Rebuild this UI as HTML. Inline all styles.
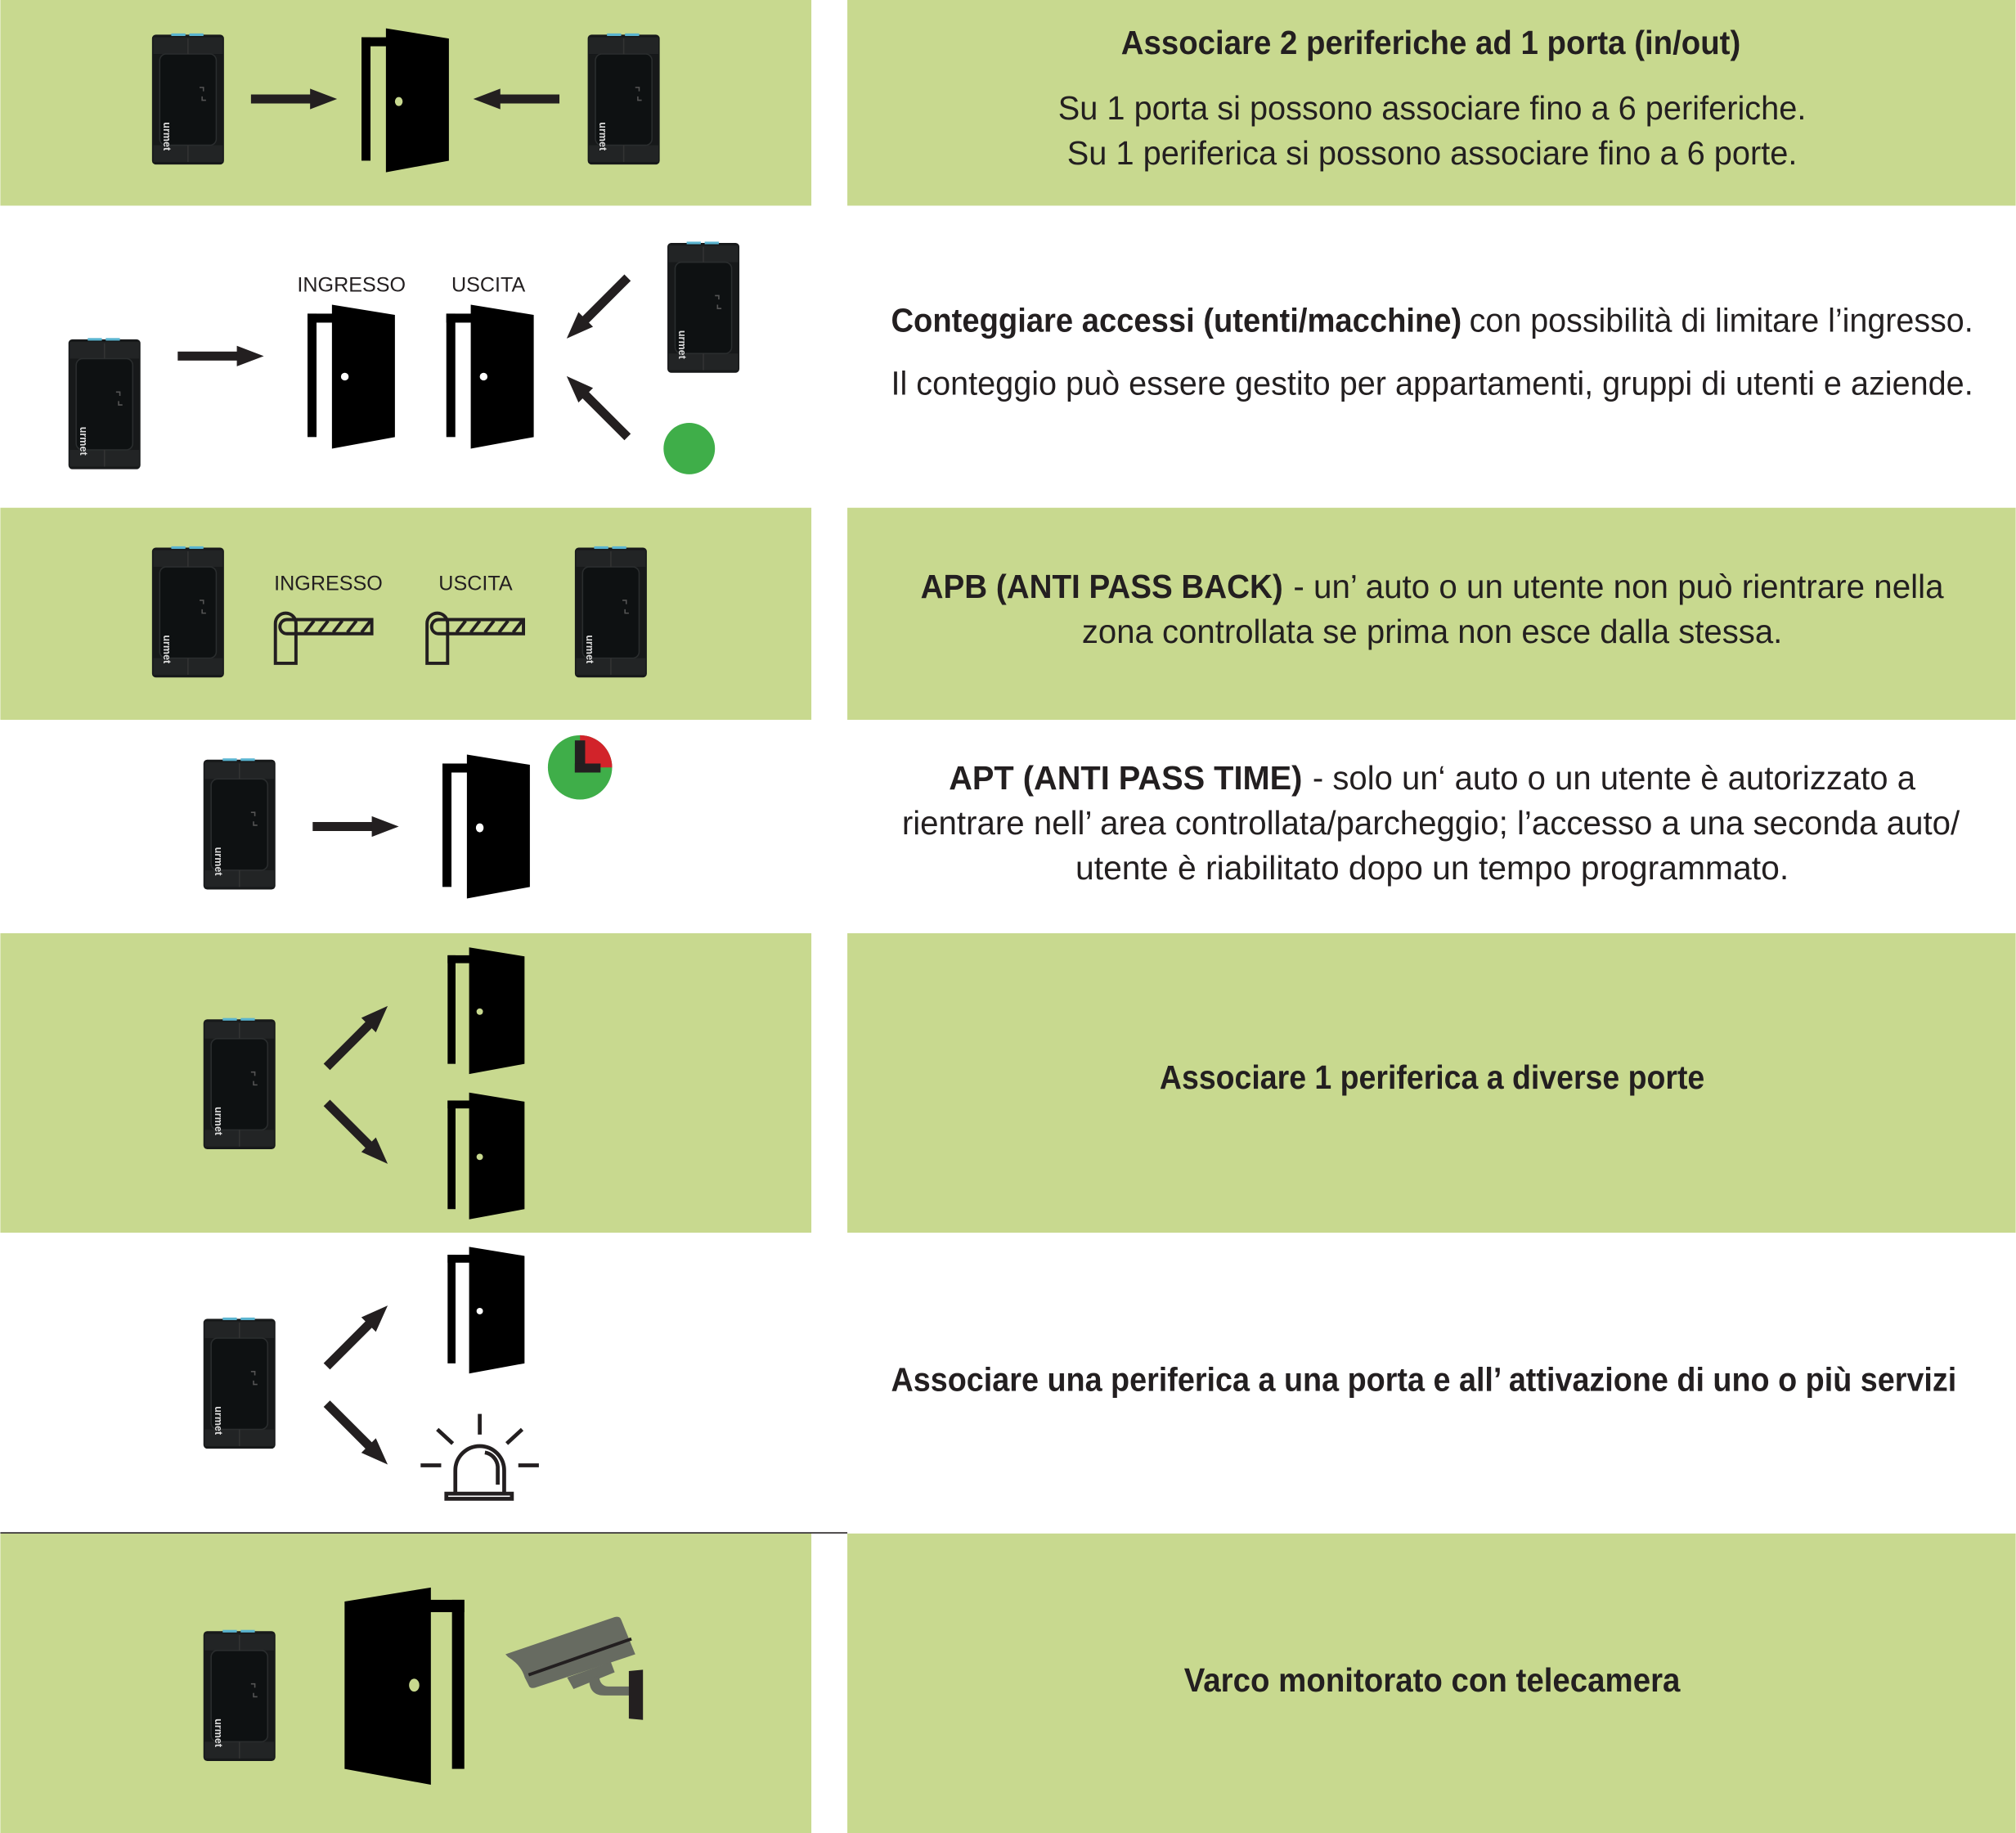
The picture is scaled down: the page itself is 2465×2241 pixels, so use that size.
<!DOCTYPE html>
<html><head><meta charset="utf-8"><style>
html,body{margin:0;padding:0;background:#fff;}
svg{display:block;}
text{font-family:"Liberation Sans",sans-serif;fill:#231f20;}
.t{font-size:26px;}
.b{font-weight:bold;}
.l{font-size:16px;}
</style></head><body>
<svg width="2465" height="2241" viewBox="0 0 1568 1426" xmlns="http://www.w3.org/2000/svg">
<defs>
<g id="rd">
<rect x="0" y="2" width="56" height="101" rx="3" fill="#17191a"/>
<rect x="1" y="4" width="54" height="13" fill="#222425"/>
<rect x="1" y="88" width="54" height="13" fill="#222425"/>
<rect x="15" y="1" width="11" height="2" fill="#5ab4d0"/>
<rect x="29" y="1" width="11" height="2" fill="#5ab4d0"/>
<rect x="6" y="17" width="44" height="71" rx="5" fill="#0e1112" stroke="#2a2d2e" stroke-width="1"/>
<path d="M28 17V5M28 88v13" stroke="#333" stroke-width="1"/>
<path d="M20 40h3v3M22 47v3h3" transform="translate(17 3)" fill="none" stroke="#555" stroke-width="1"/>
<text transform="translate(9 70) rotate(90)" style="font-size:8px;font-weight:bold;fill:#ddd">urmet</text>
</g>
<g id="dr">
<rect x="0" y="7" width="7" height="96" fill="#000"/>
<rect x="0" y="7" width="20" height="7" fill="#000"/>
<polygon points="19,0 68,8 68,103 19,112" fill="#000"/>
</g>
<g id="ar"><rect x="0" y="-3.5" width="48" height="7" fill="#231f20"/><polygon points="46,-8 67,0 46,8" fill="#231f20"/></g>
<g id="bar">
<path d="M3 41V10a8 8 0 0 1 16 0V41Z" fill="none" stroke="#231f20" stroke-width="2.5"/>
<path d="M12 7h66v11H12a5.5 5.5 0 0 1 0-11Z" fill="none" stroke="#231f20" stroke-width="2.5"/>
<path d="M26 17l7-9M37 17l7-9M48 17l7-9M59 17l7-9M70 17l7-9" stroke="#231f20" stroke-width="2.5"/>
</g>
</defs>
<g fill="#c8d98f">
<rect x="0" y="0" width="631" height="160"/><rect x="659" y="0" width="909" height="160"/>
<rect x="0" y="395" width="631" height="165"/><rect x="659" y="395" width="909" height="165"/>
<rect x="0" y="726" width="631" height="233"/><rect x="659" y="726" width="909" height="233"/>
<rect x="0" y="1193" width="631" height="233"/><rect x="659" y="1193" width="909" height="233"/>
</g>
<rect x="0" y="1192" width="659" height="1" fill="#231f20"/>

<use href="#rd" x="118" y="25"/>
<use href="#ar" x="195" y="77"/>
<use href="#dr" x="281" y="22"/><ellipse cx="310" cy="79" rx="3" ry="3.5" fill="#c8d98f"/>
<use href="#ar" transform="translate(435 77) scale(-1 1)"/>
<use href="#rd" x="457" y="25"/>

<use href="#rd" x="53" y="262"/>
<use href="#ar" x="138" y="277"/>
<text class="l" x="231" y="227">INGRESSO</text>
<text class="l" x="351" y="227">USCITA</text>
<use href="#dr" x="239" y="237"/><circle cx="268" cy="293" r="3" fill="#fff"/>
<use href="#dr" x="347" y="237"/><circle cx="376" cy="293" r="3" fill="#fff"/>
<use href="#ar" transform="translate(488 216) rotate(135)"/>
<use href="#ar" transform="translate(488 340) rotate(-135)"/>
<use href="#rd" x="519" y="187"/>
<circle cx="536" cy="349" r="20" fill="#3fae49"/>

<use href="#rd" x="118" y="424"/>
<text class="l" x="213" y="459">INGRESSO</text>
<text class="l" x="341" y="459">USCITA</text>
<use href="#bar" x="211" y="475"/>
<use href="#bar" x="329" y="475"/>
<use href="#rd" x="447" y="424"/>

<use href="#rd" x="158" y="589"/>
<use href="#ar" x="243" y="643"/>
<use href="#dr" x="344" y="587"/><ellipse cx="373" cy="644" rx="3" ry="3.5" fill="#fff"/>
<circle cx="451" cy="597" r="25" fill="#3fae49"/>
<path d="M451 597V572A25 25 0 0 1 476 597Z" fill="#d2232a"/>
<rect x="447" y="576" width="8" height="25" fill="#231f20"/><rect x="447" y="594" width="20" height="7" fill="#231f20"/>

<use href="#rd" x="158" y="791"/>
<use href="#ar" transform="translate(254 830) rotate(-45)"/>
<use href="#ar" transform="translate(254 858) rotate(45)"/>
<g transform="translate(348 737) scale(0.88)"><use href="#dr"/></g><circle cx="373" cy="787" r="2.5" fill="#c8d98f"/>
<g transform="translate(348 850) scale(0.88)"><use href="#dr"/></g><circle cx="373" cy="900" r="2.5" fill="#c8d98f"/>

<use href="#rd" x="158" y="1024"/>
<use href="#ar" transform="translate(254 1063) rotate(-45)"/>
<use href="#ar" transform="translate(254 1092) rotate(45)"/>
<g transform="translate(348 970) scale(0.88)"><use href="#dr"/></g><circle cx="373" cy="1020" r="2.5" fill="#fff"/>
<g stroke="#231f20" stroke-width="3" fill="none">
<path d="M373 1100v16M340 1112l12 11M406 1112l-12 11M327 1140h16M403 1140h16"/>
<path d="M354 1163v-19a19 19 0 0 1 38 0v19"/>
<path d="M387 1155v-14a12 12 0 0 0-10-11"/>
<rect x="347" y="1162" width="51" height="4"/>
</g>

<use href="#rd" x="158" y="1267"/>
<g transform="translate(361 1235) scale(-1.37 1.37)"><use href="#dr"/></g>
<ellipse cx="322" cy="1311" rx="4" ry="5" fill="#c8d98f"/>
<g fill="#676b61">
<path d="M393 1287L478 1258q4-1 5 2l11 27-78 26q-4 1-5-2l-3-6q-3-10-13-16Z"/>
<path d="M441 1305l34-12 3 8-32 13Z"/>
<path d="M458 1305c0 10 4 14 12 14h20v-7h-17c-4 0-7-3-7-8Z"/>
</g>
<path d="M411 1303l80-28" stroke="#231f20" stroke-width="2.5"/>
<path d="M489 1300l11-1v39l-11-1Z" fill="#231f20"/>

<text class="t b" x="1113" y="42" text-anchor="middle" textLength="482" lengthAdjust="spacingAndGlyphs">Associare 2 periferiche ad 1 porta (in/out)</text>
<text class="t" x="1114" y="93" text-anchor="middle" textLength="582" lengthAdjust="spacingAndGlyphs">Su 1 porta si possono associare fino a 6 periferiche.</text>
<text class="t" x="1114" y="128" text-anchor="middle" textLength="568" lengthAdjust="spacingAndGlyphs">Su 1 periferica si possono associare fino a 6 porte.</text>

<text class="t b" x="693" y="258" textLength="444" lengthAdjust="spacingAndGlyphs">Conteggiare accessi (utenti/macchine)</text>
<text class="t" x="1143" y="258" textLength="392" lengthAdjust="spacingAndGlyphs">con possibilità di limitare l’ingresso.</text>
<text class="t" x="693" y="307" textLength="842" lengthAdjust="spacingAndGlyphs">Il conteggio può essere gestito per appartamenti, gruppi di utenti e aziende.</text>

<text class="t b" x="716" y="465" textLength="282" lengthAdjust="spacingAndGlyphs">APB (ANTI PASS BACK)</text>
<text class="t" x="1006" y="465" textLength="506" lengthAdjust="spacingAndGlyphs">- un’ auto o un utente non può rientrare nella</text>
<text class="t" x="1114" y="500" text-anchor="middle" textLength="545" lengthAdjust="spacingAndGlyphs">zona controllata se prima non esce dalla stessa.</text>

<text class="t b" x="738" y="614" textLength="275" lengthAdjust="spacingAndGlyphs">APT (ANTI PASS TIME)</text>
<text class="t" x="1021" y="614" textLength="469" lengthAdjust="spacingAndGlyphs">- solo un‘ auto o un utente è autorizzato a</text>
<text class="t" x="1113" y="649" text-anchor="middle" textLength="823" lengthAdjust="spacingAndGlyphs">rientrare nell’ area controllata/parcheggio; l’accesso a una seconda auto/</text>
<text class="t" x="1114" y="684" text-anchor="middle" textLength="555" lengthAdjust="spacingAndGlyphs">utente è riabilitato dopo un tempo programmato.</text>

<text class="t b" x="1114" y="847" text-anchor="middle" textLength="424" lengthAdjust="spacingAndGlyphs">Associare 1 periferica a diverse porte</text>
<text class="t b" x="693" y="1082" textLength="829" lengthAdjust="spacingAndGlyphs">Associare una periferica a una porta e all’ attivazione di uno o più servizi</text>
<text class="t b" x="1114" y="1316" text-anchor="middle" textLength="386" lengthAdjust="spacingAndGlyphs">Varco monitorato con telecamera</text>
</svg>
</body></html>
